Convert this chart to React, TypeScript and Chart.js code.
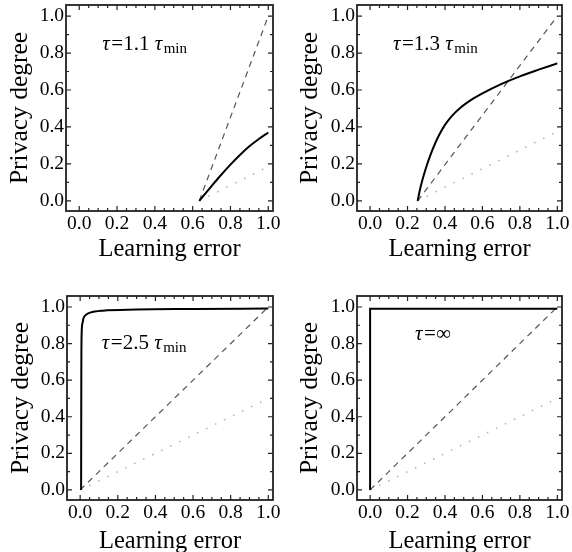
import React, { useEffect, useRef } from 'react';
import { Chart, registerables } from 'chart.js';
Chart.register(...registerables);

// ---- shared axis data ----
const xTickValues = [0, 0.2, 0.4, 0.6, 0.8, 1.0];
const yTickValues = [0, 0.2, 0.4, 0.6, 0.8, 1.0];
const xMinorTicks = [0.05, 0.1, 0.15, 0.25, 0.3, 0.35, 0.45, 0.5, 0.55, 0.65, 0.7, 0.75, 0.85, 0.9, 0.95];
const yMinorTicks = [0.1, 0.3, 0.5, 0.7, 0.9];
const xAxisTitle = 'Learning error';
const yAxisTitle = 'Privacy degree';

// ---- panel 1: τ=1.1 τmin ----
const p1SolidX = [0.635, 0.7, 0.75, 0.8, 0.85, 0.9, 0.95, 1.0];
const p1SolidY = [0, 0.08, 0.14, 0.196, 0.248, 0.295, 0.335, 0.37];
const p1DashX = [0.635, 1.0];
const p1DashY = [0, 1.0];
const p1DotX = [0.635, 1.0];
const p1DotY = [0, 0.185];
const p1Label: [string, string][] = [['τ', 'i'], ['=1.1 ', 'n'], ['τ', 'i'], ['min', 's']];

// ---- panel 2: τ=1.3 τmin ----
const p2SolidX = [0.254, 0.265, 0.28, 0.3, 0.325, 0.35, 0.375, 0.4, 0.425, 0.45, 0.475, 0.5, 0.55, 0.6, 0.7, 0.8, 0.9, 1.0];
const p2SolidY = [0, 0.055, 0.115, 0.183, 0.255, 0.317, 0.368, 0.411, 0.445, 0.4735, 0.4975, 0.518, 0.553, 0.582, 0.632, 0.674, 0.71, 0.744];
const p2DashX = [0.254, 1.0];
const p2DashY = [0, 1.0];
const p2DotX = [0.254, 1.0];
const p2DotY = [0, 0.375];
const p2Label: [string, string][] = [['τ', 'i'], ['=1.3 ', 'n'], ['τ', 'i'], ['min', 's']];

// ---- panel 3: τ=2.5 τmin ----
const p3SolidX = [0.005, 0.006, 0.008, 0.012, 0.018, 0.035, 0.053, 0.12, 0.3, 0.6, 1.0];
const p3SolidY = [0, 0.6, 0.86, 0.91, 0.94, 0.96, 0.969, 0.98, 0.986, 0.989, 0.992];
const p3DashX = [0, 1.0];
const p3DashY = [0, 1.0];
const p3DotX = [0, 1.0];
const p3DotY = [0, 0.5];
const p3Label: [string, string][] = [['τ', 'i'], ['=2.5 ', 'n'], ['τ', 'i'], ['min', 's']];

// ---- panel 4: τ=∞ ----
const p4SolidX = [0, 0, 1.0];
const p4SolidY = [0, 0.99, 0.99];
const p4DashX = [0, 1.0];
const p4DashY = [0, 1.0];
const p4DotX = [0, 1.0];
const p4DotY = [0, 0.5];
const p4Label: [string, string][] = [['τ', 'i'], ['=∞', 'n']];

const W = 286;
const H = 276;
const SERIF = "'Liberation Serif', 'Times New Roman', serif";
const X_TITLE_SIZE = 24.5;
const Y_TITLE_SIZE = 25.5;
const TICK_SIZE = 19.5;

const zip = (xs: number[], ys: number[]) => xs.map((x, i) => ({ x, y: ys[i] }));

const panels = [
  { sx: p1SolidX, sy: p1SolidY, dx: p1DashX, dy: p1DashY, ox: p1DotX, oy: p1DotY, label: p1Label, lx: 0.122, ly: 0.816,
    area: { left: 66, right: 273, top: 5, bottom: 211 }, yTitleCenter: 20, xTitleBaseline: 257.3 },
  { sx: p2SolidX, sy: p2SolidY, dx: p2DashX, dy: p2DashY, ox: p2DotX, oy: p2DotY, label: p2Label, lx: 0.122, ly: 0.816,
    area: { left: 71, right: 276, top: 5, bottom: 211 }, yTitleCenter: 24, xTitleBaseline: 257.3 },
  { sx: p3SolidX, sy: p3SolidY, dx: p3DashX, dy: p3DashY, ox: p3DotX, oy: p3DotY, label: p3Label, lx: 0.115, ly: 0.773,
    area: { left: 67, right: 273, top: 20, bottom: 224 }, yTitleCenter: 21.5, xTitleBaseline: 272.7 },
  { sx: p4SolidX, sy: p4SolidY, dx: p4DashX, dy: p4DashY, ox: p4DotX, oy: p4DotY, label: p4Label, lx: 0.24, ly: 0.82,
    area: { left: 71, right: 276, top: 20, bottom: 224 }, yTitleCenter: 24, xTitleBaseline: 272.7 },
];

const framePlugin = {
  id: 'frameTicks',
  afterDatasetsDraw(chart: any) {
    const { ctx, chartArea: a, scales } = chart;
    const xs = scales.x;
    const ys = scales.y;
    ctx.save();
    ctx.strokeStyle = '#222';
    ctx.lineWidth = 1.2;
    const tick = (vals: number[], len: number) => {
      ctx.beginPath();
      vals.forEach((v) => {
        const px = xs.getPixelForValue(v);
        ctx.moveTo(px, a.bottom);
        ctx.lineTo(px, a.bottom - len);
        ctx.moveTo(px, a.top);
        ctx.lineTo(px, a.top + len);
      });
      ctx.stroke();
    };
    const tickY = (vals: number[], len: number) => {
      ctx.beginPath();
      vals.forEach((v) => {
        const py = ys.getPixelForValue(v);
        ctx.moveTo(a.left, py);
        ctx.lineTo(a.left + len, py);
        ctx.moveTo(a.right, py);
        ctx.lineTo(a.right - len, py);
      });
      ctx.stroke();
    };
    tick(xTickValues, 5);
    tick(xMinorTicks, 3);
    tickY(yTickValues, 5);
    tickY(yMinorTicks, 3);
    ctx.lineWidth = 1.8;
    ctx.strokeRect(a.left, a.top, a.right - a.left, a.bottom - a.top);
    ctx.restore();
  },
};

const labelPlugin = {
  id: 'tauLabel',
  afterDraw(chart: any, _args: any, opts: any) {
    const { ctx, scales } = chart;
    let x = scales.x.getPixelForValue(opts.x);
    const y = scales.y.getPixelForValue(opts.y);
    ctx.save();
    ctx.fillStyle = '#000';
    ctx.textBaseline = 'alphabetic';
    ctx.textAlign = 'left';
    (opts.pieces as [string, string][]).forEach(([t, k]) => {
      if (k === 'i') ctx.font = `italic 21px ${SERIF}`;
      else if (k === 's') ctx.font = `15px ${SERIF}`;
      else ctx.font = `21px ${SERIF}`;
      const dy = k === 's' ? 3 : 0;
      ctx.fillText(t, x, y + dy);
      x += ctx.measureText(t).width + (k === 'i' ? 1.5 : 0);
    });
    ctx.restore();
  },
};

function Panel({ p }: { p: any }) {
  const ref = useRef<HTMLCanvasElement | null>(null);
  useEffect(() => {
    if (!ref.current) return;
    const lhY = Y_TITLE_SIZE * 1.2;
    const lhX = X_TITLE_SIZE * 1.2;
    const yTitlePadTop = p.yTitleCenter - lhY / 2;
    const xTitleMiddle = p.xTitleBaseline - 0.305 * X_TITLE_SIZE;
    const xTitlePadBottom = H - lhX / 2 - xTitleMiddle;
    const chart = new Chart(ref.current, {
      type: 'scatter',
      data: {
        datasets: [
          { data: zip(p.sx, p.sy), showLine: true, borderColor: '#000', borderWidth: 2, pointRadius: 0, cubicInterpolationMode: 'monotone' } as any,
          { data: zip(p.dx, p.dy), showLine: true, borderColor: '#555', borderWidth: 1.2, borderDash: [6, 5], pointRadius: 0 },
          { data: zip(p.ox, p.oy), showLine: true, borderColor: '#b0b0b0', borderWidth: 1.5, borderDash: [1.5, 8.5], pointRadius: 0 },
        ],
      },
      options: {
        responsive: false,
        animation: false,
        devicePixelRatio: 1,
        layout: { padding: { left: 0, right: W - p.area.right, top: p.area.top, bottom: 0 } },
        plugins: {
          legend: { display: false },
          tooltip: { enabled: false },
          tauLabel: { x: p.lx, y: p.ly, pieces: p.label },
        } as any,
        scales: {
          x: {
            type: 'linear',
            min: -0.07,
            max: 1.025,
            grid: { display: false, drawTicks: false },
            border: { display: false },
            afterBuildTicks: (s: any) => { s.ticks = xTickValues.map((v) => ({ value: v })); },
            afterFit: (s: any) => { s.height = H - p.area.bottom; s.paddingLeft = 0; s.paddingRight = 0; },
            ticks: { padding: 1, color: '#000', font: { family: SERIF, size: TICK_SIZE }, maxRotation: 0, autoSkip: false, callback: (v: any) => Number(v).toFixed(1) },
            title: { display: true, text: xAxisTitle, color: '#000', font: { family: SERIF, size: X_TITLE_SIZE }, padding: { top: 0, bottom: xTitlePadBottom } },
          },
          y: {
            type: 'linear',
            min: -0.055,
            max: 1.06,
            grid: { display: false, drawTicks: false },
            border: { display: false },
            afterBuildTicks: (s: any) => { s.ticks = yTickValues.map((v) => ({ value: v })); },
            afterFit: (s: any) => { s.width = p.area.left; s.paddingTop = 0; s.paddingBottom = 0; },
            ticks: { padding: 2, color: '#000', font: { family: SERIF, size: TICK_SIZE }, autoSkip: false, callback: (v: any) => Number(v).toFixed(1) },
            title: { display: true, text: yAxisTitle, color: '#000', font: { family: SERIF, size: Y_TITLE_SIZE }, padding: { top: yTitlePadTop, bottom: 0 } },
          },
        },
      },
      plugins: [framePlugin, labelPlugin],
    });
    return () => chart.destroy();
  }, [p]);
  return <canvas ref={ref} width={W} height={H} style={{ display: 'block', width: W, height: H }} />;
}

export default function App() {
  return (
    <div style={{ position: 'absolute', left: 0, top: 0, width: 572, height: 552, background: '#fff', display: 'grid', gridTemplateColumns: '286px 286px', gridTemplateRows: '276px 276px' }}>
      {panels.map((p, i) => (
        <Panel key={i} p={p} />
      ))}
    </div>
  );
}
